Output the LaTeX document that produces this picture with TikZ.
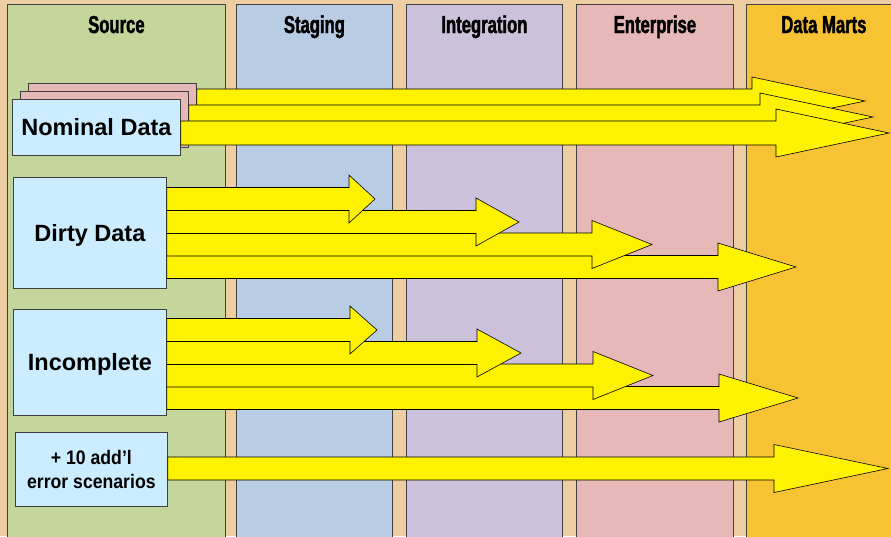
\documentclass[tikz,border=0pt]{standalone}
\usepackage{fontspec}
\setmainfont{Liberation Sans}
\newfontfamily\lanefont[FakeStretch=0.68, FakeBold=1.6]{Liberation Sans}
\newfontfamily\narrowfont[FakeStretch=0.9]{Liberation Sans}
\usetikzlibrary{positioning}
\definecolor{bgtan}{HTML}{EDCDA2}
\definecolor{srcgreen}{HTML}{C4D69B}
\definecolor{stageblue}{HTML}{B8CCE4}
\definecolor{integpurple}{HTML}{CCC1DA}
\definecolor{entpink}{HTML}{E6B8B7}
\definecolor{martgold}{HTML}{F8C332}
\definecolor{boxblue}{HTML}{CCECFF}
\definecolor{edgegray}{HTML}{404040}
\tikzset{
    lane/.style={rectangle, draw=edgegray, line width=0.8pt, minimum width=#1, minimum height=540, anchor=north west, inner sep=0pt},
    lanehead/.style={anchor=base, font=\lanefont\bfseries\fontsize{24.5}{28}\selectfont},
    block/.style={rectangle, draw=edgegray, fill=boxblue, line width=0.8pt, anchor=north west, inner sep=0pt, align=center, text depth=0pt, font=\bfseries\fontsize{23.5}{28}\selectfont},
    ghost/.style={block, fill=entpink, minimum width=168, minimum height=56},
    flow/.style={draw=black, fill=yellow, line width=0.6pt, line join=miter}
}
% block arrow: from node, centre y, shaft half height, head base x, tip x
\newcommand{\flowarrow}[5]{%
    \filldraw[flow] (#1.east |- 0,#2-#3) -- (#4,#2-#3) -- (#4,#2-24) -- (#5,#2) -- (#4,#2+24) -- (#4,#2+#3) -- (#1.east |- 0,#2+#3) -- cycle;}

\begin{document}
\begin{tikzpicture}[x=1pt, y=-1pt]

    \useasboundingbox (0,0) rectangle (891,536);
    \clip (0,0) rectangle (891,536);
    \fill[bgtan] (0,0) rectangle (891,536);

    % Lanes
    \node [lane=218, fill=srcgreen] (source) at (7,4) {};
    \node [lane=156, fill=stageblue] (staging) at (236,4) {};
    \node [lane=156, fill=integpurple] (integration) at (406,4) {};
    \node [lane=157, fill=entpink] (enterprise) at (576,4) {};
    \node [lane=155, fill=martgold] (datamarts) at (746,4) {};

    \node [lanehead] (sourcehead) at (source.north |- 0,33) {Source};
    \node [lanehead] (staginghead) at (staging.north |- 0,33) {Staging};
    \node [lanehead] (integrationhead) at (integration.north |- 0,33) {Integration};
    \node [lanehead] (enterprisehead) at (enterprise.north |- 0,33) {Enterprise};
    \node [lanehead] (datamartshead) at (datamarts.north |- 0,33) {Data Marts};

    % Nominal data
    \node [ghost] (nominalback) at (28,83) {};
    \node [ghost] (nominalmid) at (20,91) {};
    \node [block, minimum width=168, minimum height=56] (nominal) at (12,99) {Nominal Data};
    \flowarrow{nominalback}{101}{12}{752}{865}
    \flowarrow{nominalmid}{117}{12}{760}{873}
    \flowarrow{nominal}{133}{12}{776}{889}

    % Dirty data
    \node [block, minimum width=153, minimum height=111] (dirty) at (13,177) {Dirty Data};
    \foreach \cy/\bx/\tx in {267/718/796, 244.5/592/652, 222/476/519, 199/349/375}
        \flowarrow{dirty}{\cy}{11.5}{\bx}{\tx};

    % Incomplete
    \node [block, minimum width=153, minimum height=106] (incomplete) at (13,309) {Incomplete};
    \foreach \cy/\bx/\tx in {398/719/798, 375.5/593/653, 353/477/521, 330/350/377}
        \flowarrow{incomplete}{\cy}{11.5}{\bx}{\tx};

    % Other scenarios
    \node [block, minimum width=152, minimum height=74, text depth=, font=\narrowfont\bfseries\fontsize{19.6}{24}\selectfont] (scenarios) at (15,432) {+ 10 add’l\\error scenarios};
    \flowarrow{scenarios}{468.5}{11.5}{774}{888}

\end{tikzpicture}
\end{document}
